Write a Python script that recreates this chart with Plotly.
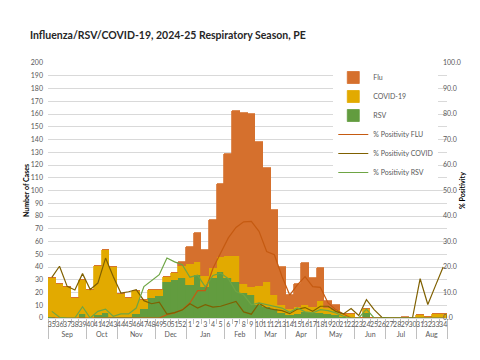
import plotly.graph_objects as go

months = ["Sep"] * 5 + ["Oct"] * 4 + ["Nov"] * 5 + ["Dec"] * 4 + ["Jan"] * 5 + ["Feb"] * 4 + \
         ["Mar"] * 4 + ["Apr"] * 4 + ["May"] * 5 + ["Jun"] * 4 + ["Jul"] * 4 + ["Aug"] * 4
weeks = ["35", "36", "37", "38", "39", "40", "41", "42", "43", "44", "45", "46", "47", "48", "49",
         "50", "51", "52", "1", "2", "3", "4", "5", "6", "7", "8", "9", "10", "11", "12", "13",
         "14", "15", "16", "17", "18", "19", "20", "21", "22", "23", "24", "25", "26", "27", "28",
         "29", "30", "31", "32", "33", "34"]

rsv_cases = [1, 0, 0, 0, 3, 0, 2, 4, 1, 1, 1, 3, 7, 16, 17, 28, 30, 31,
             26, 34, 24, 31, 36, 31, 28, 20, 18, 10, 9, 7, 4, 2, 3, 5, 4,
             4, 3, 2, 1, 0, 0, 4, 0, 0, 0, 0, 0, 0, 0, 0, 0, 0]
covid_cases = [30, 27, 24, 16, 27, 22, 39, 49, 39, 18, 15, 18, 7, 6, 5, 4, 5, 10,
               16, 10, 9, 8, 12, 18, 21, 7, 6, 15, 19, 11, 6, 5, 6, 5, 5,
               9, 5, 4, 2, 3, 0, 3, 0, 0, 0, 0, 0, 0, 2, 1, 3, 3]
flu_cases = [0, 0, 0, 0, 0, 0, 0, 0, 0, 0, 0, 0, 0, 0, 0, 0, 0, 3,
             14, 23, 20, 38, 57, 80, 113, 134, 136, 113, 90, 67, 30, 11, 18, 33, 22,
             26, 5, 4, 0, 0, 0, 0, 0, 0, 0, 0, 1, 0, 0, 0, 0, 0]

flu_pos = [0, 0, 0, 0, 0, 0, 0, 0, 0, 0, 0, 0, 0, 0, 0, 1.3, 2.0, 3.3,
           5.9, 10.7, 10.7, 19.5, 25.5, 31.4, 35.5, 37.7, 37.9, 34.0, 26.1, 24.8, 16.3,
           9.0, 13.0, 16.2, 12.3, 12.0, 5.9, 3.3, 1.6, 0, 0, 0, 0, 0, 0, 0, 0, 0, 0, 0, 0, 0]
covid_pos = [15.9, 20.3, 12.4, 11.0, 17.4, 11.2, 13.7, 23.5, 16.3, 9.8, 10.3, 11.1, 6.8, 5.6,
             6.2, 1.5, 2.1, 3.1,
             5.6, 3.9, 5.2, 4.3, 4.6, 5.5, 6.5, 2.4, 1.5, 5.8, 3.9, 3.3, 2.9,
             1.7, 3.5, 4.1, 2.6, 4.6, 4.6, 2.6, 1.6, 3.7, 1.0, 7.2, 3.3, 0.3,
             0, 0, 0, 0, 15.4, 5.3, 12.7, 20.0]
rsv_pos = [2.6, 0.3, 0, 0, 4.4, 0, 2.6, 3.5, 0.7, 1.6, 1.6, 3.9, 12.3, 14.5, 17.0, 23.5, 22.0, 20.9,
           16.0, 16.8, 12.2, 16.7, 17.6, 15.4, 10.4, 9.1, 5.2, 5.9, 5.2, 4.6, 3.9,
           2.2, 3.9, 2.4, 2.0, 3.3, 2.9, 2.0, 0.7, 0, 0, 3.5, 0, 0,
           0, 0, 0, 0, 0, 0, 0, 0]

x = [months, weeks]

FLU_C = "#D5702D"
COV_C = "#E2AA00"
RSV_C = "#629C3F"
FLU_L = "#C55A11"
COV_L = "#7F6000"
RSV_L = "#6EA544"


def bar(y, name, color, rank):
    return go.Bar(x=x, y=y, name=name, width=1.0,
                  marker=dict(color=color, line=dict(color=color, width=0.8)),
                  legendrank=rank)


fig = go.Figure()
fig.add_trace(bar(rsv_cases, "RSV", RSV_C, 3))
fig.add_trace(bar(covid_cases, "COVID-19", COV_C, 2))
fig.add_trace(bar(flu_cases, "Flu", FLU_C, 1))
fig.add_trace(go.Scatter(x=x, y=flu_pos, name="% Positivity FLU", mode="lines", line=dict(color=FLU_L, width=1.2), yaxis="y2", legendrank=4))
fig.add_trace(go.Scatter(x=x, y=covid_pos, name="% Positivity COVID", mode="lines", line=dict(color=COV_L, width=1.2), yaxis="y2", legendrank=5))
fig.add_trace(go.Scatter(x=x, y=rsv_pos, name="% Positivity RSV", mode="lines", line=dict(color=RSV_L, width=1.2), yaxis="y2", legendrank=6))

fig.update_layout(
    width=480, height=360,
    margin=dict(l=40, r=41, t=55, b=50),
    paper_bgcolor="white", plot_bgcolor="white",
    font=dict(family="Lato", size=7, color="#595959"),
    barmode="stack", bargap=0,
    title=dict(text="<b>Influenza/RSV/COVID-19, 2024-25 Respiratory Season, PE</b>",
               font=dict(family="Lato", size=10.5, color="#262626"),
               x=22 / 480, xref="container", xanchor="left",
               y=1 - 27 / 360, yref="container", yanchor="middle"),
    xaxis=dict(type="multicategory", tickmode="linear", tick0=0, dtick=1, tickangle=0,
               tickfont=dict(size=7, color="#595959"),
               ticks="outside", ticklen=5, tickcolor="#bfbfbf",
               showdividers=True, dividercolor="#bfbfbf", dividerwidth=1,
               showline=True, linecolor="#d9d9d9", showgrid=False, automargin=False),
    yaxis=dict(range=[0, 200], dtick=10, showgrid=True, gridcolor="#d9d9d9", gridwidth=1,
               zeroline=False, showline=False, ticks="", ticklabelstandoff=4,
               tickfont=dict(size=7, color="#595959"),
               title=dict(text="<b>Number of Cases</b>", font=dict(size=7, color="#000000"), standoff=0),
               automargin=False),
    yaxis2=dict(range=[0, 100], dtick=10, tickformat=".1f", overlaying="y", side="right",
                showgrid=False, zeroline=False, showline=False, ticklabelstandoff=-5,
                tickfont=dict(size=7, color="#595959"),
                title=dict(text="<b>% Positivity</b>", font=dict(size=7, color="#000000"), standoff=0),
                automargin=False),
    legend=dict(x=0.715, y=1.0, xanchor="left", yanchor="top", traceorder="normal",
                bgcolor="white", font=dict(size=7, color="#595959"),
                itemwidth=30, tracegroupgap=0),
    showlegend=True,
)

fig.write_html("out.html")
